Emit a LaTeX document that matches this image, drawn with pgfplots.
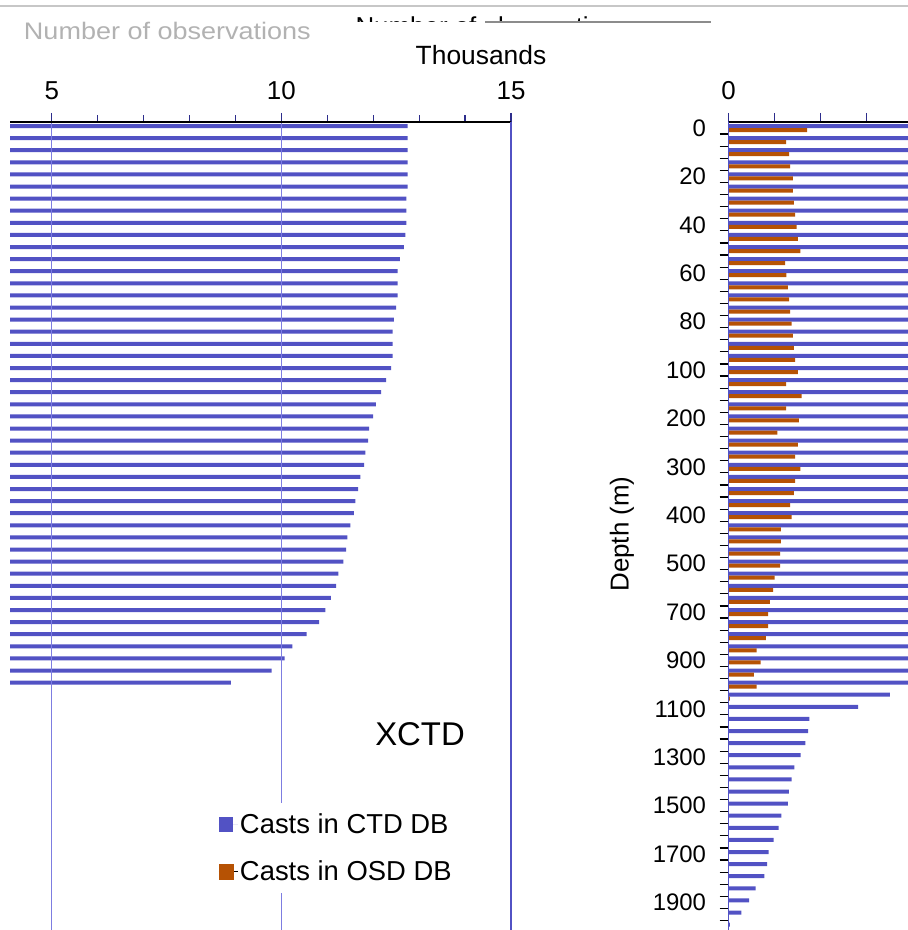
\documentclass[border=0pt]{standalone}
\usepackage{fontspec}
\setmainfont{Liberation Sans}
\usepackage{graphicx}
\usepackage{pgfplots}
\pgfplotsset{compat=1.18}
\usepackage{pgfplotstable}
\definecolor{ctdblue}{RGB}{82,82,196}
\definecolor{osdorange}{RGB}{182,82,4}
\definecolor{gridc}{RGB}{125,125,225}
\definecolor{tickc}{RGB}{45,45,140}

% y = -(index of standard depth level); ctd in thousands of casts
\pgfplotstableread{
y ctd
0 12.75
-1 12.75
-2 12.75
-3 12.75
-4 12.75
-5 12.75
-6 12.72
-7 12.72
-8 12.72
-9 12.70
-10 12.67
-11 12.58
-12 12.53
-13 12.53
-14 12.53
-15 12.50
-16 12.45
-17 12.42
-18 12.42
-19 12.42
-20 12.39
-21 12.28
-22 12.17
-23 12.06
-24 12.00
-25 11.91
-26 11.89
-27 11.83
-28 11.80
-29 11.72
-30 11.67
-31 11.61
-32 11.58
-33 11.50
-34 11.44
-35 11.41
-36 11.35
-37 11.24
-38 11.19
-39 11.08
-40 10.96
-41 10.82
-42 10.55
-43 10.24
-44 10.07
-45 9.79
-46 8.90
-47 3.51
-48 2.82
-49 1.76
-50 1.73
-51 1.67
-52 1.57
-53 1.43
-54 1.37
-55 1.31
-56 1.29
-57 1.15
-58 1.09
-59 0.98
-60 0.87
-61 0.84
-62 0.78
-63 0.59
-64 0.45
-65 0.28
-66 0.03
}\ctdtable

\pgfplotstableread{
y osd
0 1.71
-1 1.25
-2 1.32
-3 1.34
-4 1.40
-5 1.40
-6 1.42
-7 1.45
-8 1.48
-9 1.51
-10 1.56
-11 1.23
-12 1.26
-13 1.29
-14 1.32
-15 1.34
-16 1.37
-17 1.40
-18 1.42
-19 1.45
-20 1.51
-21 1.25
-22 1.59
-23 1.25
-24 1.53
-25 1.06
-26 1.51
-27 1.45
-28 1.56
-29 1.45
-30 1.42
-31 1.34
-32 1.37
-33 1.14
-34 1.14
-35 1.12
-36 1.12
-37 1.00
-38 0.97
-39 0.90
-40 0.86
-41 0.86
-42 0.81
-43 0.61
-44 0.70
-45 0.55
-46 0.61
-47 0.03
}\osdtable

\pgfplotsset{
  common/.style={
    scale only axis, height=808bp,
    ymin=-66.28, ymax=0.5,
    enlargelimits=false,
    xbar, bar width=4bp,
    tick align=outside,
    major tick length=9bp, minor tick length=6.5bp,
    every tick/.style={tickc, line width=1.2bp},
    x axis line style={black, line width=1.3bp},
    /pgf/number format/assume math mode=true,
    xticklabel style={font=\fontsize{26}{26}\selectfont, yshift=10bp},
    axis on top,
    clip=true,
  },
}

\begin{document}
\begin{tikzpicture}
\path[use as bounding box] (0,0) rectangle (908bp,930bp);

% ---------- left panel (window 4.09 to 15 thousand) ----------
\begin{axis}[common,
  at={(10bp,0bp)}, anchor=south west,
  width=501bp,
  xmin=4.092, xmax=15,
  axis x line*=top, axis y line*=right,
  y axis line style={ctdblue, line width=1.6bp},
  xtick={5,10,15}, minor x tick num=4,
  ytick=\empty,
  xmajorgrids, grid style={gridc, line width=1.2bp},
  legend cell align=left,
  legend style={at={(0.400,0.158)}, anchor=north west, draw=none, fill=white,
    font=\fontsize{27.5}{30}\selectfont, inner xsep=8bp, inner ysep=9bp,
    row sep=22bp},
]
\addplot[fill=ctdblue, draw=none, bar shift=2bp,
  skip coords between index={47}{67},
  legend image code/.code={\path (0bp,0bp) -- (19bp,0bp); \fill[ctdblue] (0bp,-7.5bp) rectangle (14bp,7.5bp);}]
  table[x=ctd, y=y] {\ctdtable};
\addlegendentry{Casts in CTD DB}
\addlegendimage{legend image code/.code={\path (0bp,0bp) -- (19bp,0bp); \fill[osdorange] (0bp,-7.5bp) rectangle (14bp,7.5bp);}}
\addlegendentry{Casts in OSD DB}
\end{axis}

% ---------- right panel (window 0 to 3.9 thousand) ----------
\begin{axis}[common,
  at={(728.5bp,0bp)}, anchor=south west,
  width=179.5bp,
  xmin=0, xmax=3.902,
  axis x line*=top, axis y line*=left,
  y axis line style={ctdblue, line width=1.6bp},
  xtick={0}, minor xtick={1,2,3},
  ytick={0,-4,-8,-12,-16,-20,-24,-28,-32,-36,-40,-44,-48,-52,-56,-60,-64},
  yticklabels={0,20,40,60,80,100,200,300,400,500,700,900,1100,1300,1500,1700,1900},
  minor ytick={-0.5,-1.5,...,-65.5},
  every major y tick/.append style={draw=none},
  every minor y tick/.append style={black, line width=1.2bp},
  minor tick length=9bp,
  yticklabel style={font=\fontsize{24}{24}\selectfont, xshift=-10bp},
]
\addplot[fill=ctdblue, draw=none, bar shift=2bp] table[x=ctd, y=y] {\ctdtable};
\addplot[fill=osdorange, draw=none, bar shift=-2bp] table[x=osd, y=y] {\osdtable};
\end{axis}

% ---------- texts ----------
\node[font=\fontsize{26.5}{28}\selectfont] at (481bp,875bp) {Thousands};
\node[font=\fontsize{33}{35}\selectfont] at (420bp,196bp) {XCTD};
\node[font=\fontsize{26}{28}\selectfont, rotate=90] at (622bp,396bp) {Depth (m)};

% top decorations
\draw[black!22, line width=1.5bp] (0,924bp) -- (908bp,924bp);
\node[font=\fontsize{24}{26}\selectfont, text=black!30, anchor=west, xscale=1.13] at (20bp,899bp) {Number of observations};
\begin{scope}
\clip (340bp,908bp) rectangle (720bp,914bp);
\node[font=\fontsize{26}{28}\selectfont, anchor=base west] at (352bp,894bp) {Number of observations};
\end{scope}
\draw[black!45, line width=1.3bp] (485bp,908bp) -- (711bp,908bp);
\end{tikzpicture}
\end{document}
